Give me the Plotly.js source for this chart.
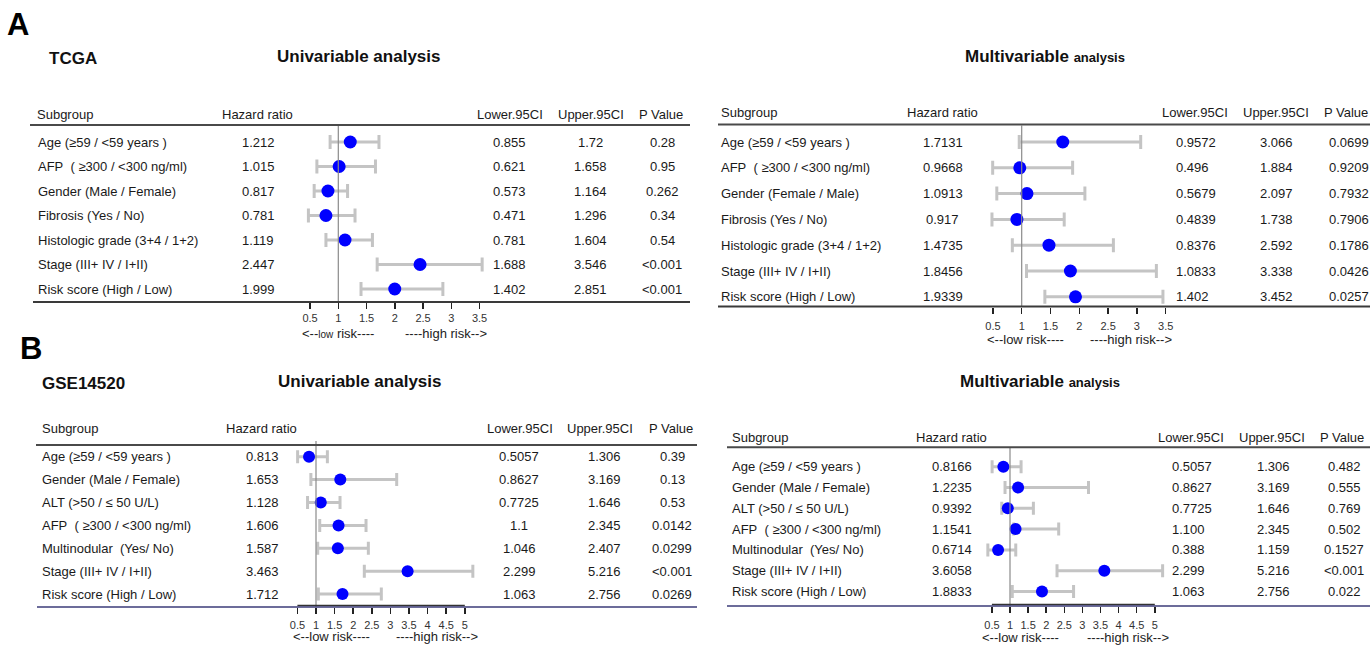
<!DOCTYPE html>
<html>
<head>
<meta charset="utf-8">
<script src="https://cdn.plot.ly/plotly-3.0.1.min.js"></script>
<style>
  html, body { margin: 0; padding: 0; background: #fff; }
  #chart { width: 1370px; height: 645px; }
</style>
</head>
<body>
<div id="chart"></div>
<script>
// ---------------- data ----------------
// TCGA cohort, univariable Cox regression
const tcgaUniSubgroups = [
  'Age (≥59 / <59 years )',
  'AFP\u00a0 ( ≥300 / <300 ng/ml)',
  'Gender (Male / Female)',
  'Fibrosis (Yes / No)',
  'Histologic grade (3+4 / 1+2)',
  'Stage (III+ IV / I+II)',
  'Risk score (High / Low)'
];
const tcgaUniHR    = ['1.212', '1.015', '0.817', '0.781', '1.119', '2.447', '1.999'];
const tcgaUniLower = ['0.855', '0.621', '0.573', '0.471', '0.781', '1.688', '1.402'];
const tcgaUniUpper = ['1.72', '1.658', '1.164', '1.296', '1.604', '3.546', '2.851'];
const tcgaUniP     = ['0.28', '0.95', '0.262', '0.34', '0.54', '<0.001', '<0.001'];

// TCGA cohort, multivariable Cox regression
const tcgaMultiSubgroups = [
  'Age (≥59 / <59 years )',
  'AFP\u00a0 ( ≥300 / <300 ng/ml)',
  'Gender (Female / Male)',
  'Fibrosis (Yes / No)',
  'Histologic grade (3+4 / 1+2)',
  'Stage (III+ IV / I+II)',
  'Risk score (High / Low)'
];
const tcgaMultiHR    = ['1.7131', '0.9668', '1.0913', '0.917', '1.4735', '1.8456', '1.9339'];
const tcgaMultiLower = ['0.9572', '0.496', '0.5679', '0.4839', '0.8376', '1.0833', '1.402'];
const tcgaMultiUpper = ['3.066', '1.884', '2.097', '1.738', '2.592', '3.338', '3.452'];
const tcgaMultiP     = ['0.0699', '0.9209', '0.7932', '0.7906', '0.1786', '0.0426', '0.0257'];

// GSE14520 cohort, univariable Cox regression
const gseUniSubgroups = [
  'Age (≥59 / <59 years )',
  'Gender (Male / Female)',
  'ALT (>50 / ≤ 50 U/L)',
  'AFP\u00a0 ( ≥300 / <300 ng/ml)',
  'Multinodular\u00a0 (Yes/ No)',
  'Stage (III+ IV / I+II)',
  'Risk score (High / Low)'
];
const gseUniHR    = ['0.813', '1.653', '1.128', '1.606', '1.587', '3.463', '1.712'];
const gseUniLower = ['0.5057', '0.8627', '0.7725', '1.1', '1.046', '2.299', '1.063'];
const gseUniUpper = ['1.306', '3.169', '1.646', '2.345', '2.407', '5.216', '2.756'];
const gseUniP     = ['0.39', '0.13', '0.53', '0.0142', '0.0299', '<0.001', '0.0269'];

// GSE14520 cohort, multivariable Cox regression
const gseMultiSubgroups = gseUniSubgroups.slice();
const gseMultiHR    = ['0.8166', '1.2235', '0.9392', '1.1541', '0.6714', '3.6058', '1.8833'];
const gseMultiLower = ['0.5057', '0.8627', '0.7725', '1.100', '0.388', '2.299', '1.063'];
const gseMultiUpper = ['1.306', '3.169', '1.646', '2.345', '1.159', '5.216', '2.756'];
const gseMultiP     = ['0.482', '0.555', '0.769', '0.502', '0.1527', '<0.001', '0.022'];

// axis ticks
const ticksTcga = [0.5, 1, 1.5, 2, 2.5, 3, 3.5];
const ticksGse  = [0.5, 1, 1.5, 2, 2.5, 3, 3.5, 4, 4.5, 5];

const headers = ['Subgroup', 'Hazard ratio', 'Lower.95CI', 'Upper.95CI', 'P Value'];

// ---------------- layout helpers ----------------
const W = 1370, H = 645;
const FONT = 'Liberation Sans, Arial, Helvetica, sans-serif';
const TXT = '#1a1a1a';
const px = v => v / W;
const py = v => 1 - v / H;
const esc = s => s.replace(/&/g, '&amp;').replace(/</g, '&lt;').replace(/>/g, '&gt;');

// geometry of each forest panel (pixel positions on the 1370x645 page)
const panels = [
  {
    subgroups: tcgaUniSubgroups, hr: tcgaUniHR, lower: tcgaUniLower, upper: tcgaUniUpper, p: tcgaUniP,
    ticks: ticksTcga,
    title: { text: '<b>Univariable analysis</b>', x: 358, y: 56 },
    headerY: 114, headerX: [35, 257, 510, 591, 661],
    colName: 36, colHR: 258, colLower: { x: 509, a: 'center' }, colUpper: 590, colP: { x: 662, a: 'center' },
    topLine: { y: 125, x0: 30, x1: 690 },
    bottomLine: { y: 302, x0: 33, x1: 690, color: '#3a3a3a', w: 2 },
    firstRow: 142, rowStep: 24.5,
    onePx: 338.3, unitPx: 56.5, dom: [285, 495],
    refTop: 126, arrowY: 333, lowX: 338, highX: 446, smallLow: true, standoff: 0,
    mSize: 13, cap: 7, segment: false
  },
  {
    subgroups: tcgaMultiSubgroups, hr: tcgaMultiHR, lower: tcgaMultiLower, upper: tcgaMultiUpper, p: tcgaMultiP,
    ticks: ticksTcga,
    title: { text: '<b>Multivariable <span style="font-size:13px">analysis</span></b>', x: 1045, y: 57 },
    headerY: 113, headerX: [719, 942, 1195, 1276, 1346],
    colName: 719, colHR: 943, colLower: { x: 1174, a: 'left' }, colUpper: 1276, colP: { x: 1327, a: 'left' },
    topLine: { y: 124.5, x0: 718, x1: 1370 },
    bottomLine: { y: 306.5, x0: 718, x1: 1370, color: '#3a3a3a', w: 2 },
    firstRow: 142, rowStep: 25.8,
    onePx: 1021.7, unitPx: 57.6, dom: [968, 1180],
    refTop: 125.5, arrowY: 339.5, lowX: 1025, highX: 1131, smallLow: false, standoff: 3,
    mSize: 13, cap: 7, segment: false
  },
  {
    subgroups: gseUniSubgroups, hr: gseUniHR, lower: gseUniLower, upper: gseUniUpper, p: gseUniP,
    ticks: ticksGse,
    title: { text: '<b>Univariable analysis</b>', x: 359, y: 381 },
    headerY: 428, headerX: [40, 261, 520, 600, 671],
    colName: 40, colHR: 262, colLower: { x: 519, a: 'center' }, colUpper: 604, colP: { x: 672, a: 'center' },
    topLine: { y: 445, x0: 36, x1: 697 },
    bottomLine: { y: 607, x0: 37, x1: 697, color: '#3b3b78', w: 1.5 },
    firstRow: 456.7, rowStep: 22.9,
    onePx: 316, unitPx: 37.2, dom: [280, 485],
    refTop: 441, arrowY: 636, lowX: 331, highX: 437, smallLow: false, standoff: 2,
    mSize: 12, cap: 6.5, segment: true
  },
  {
    subgroups: gseMultiSubgroups, hr: gseMultiHR, lower: gseMultiLower, upper: gseMultiUpper, p: gseMultiP,
    ticks: ticksGse,
    title: { text: '<b>Multivariable <span style="font-size:13px">analysis</span></b>', x: 1040, y: 381 },
    headerY: 437, headerX: [730, 951, 1191, 1272, 1342],
    colName: 730, colHR: 951.5, colLower: { x: 1170, a: 'left' }, colUpper: 1273, colP: { x: 1344, a: 'center' },
    topLine: { y: 447.3, x0: 727, x1: 1370 },
    bottomLine: { y: 606, x0: 727, x1: 1370, color: '#3b3b78', w: 1.5 },
    firstRow: 466.7, rowStep: 20.8,
    onePx: 1010, unitPx: 36.2, dom: [975, 1180],
    refTop: 447.3, arrowY: 637, lowX: 1021, highX: 1128, smallLow: false, standoff: 3,
    mSize: 12, cap: 6.5, segment: true
  }
];

const data = [];
const layout = {
  width: W, height: H,
  margin: { l: 0, r: 0, t: 0, b: 0 },
  paper_bgcolor: '#ffffff', plot_bgcolor: 'rgba(0,0,0,0)',
  showlegend: false,
  font: { family: FONT, color: TXT, size: 13 },
  annotations: [], shapes: []
};

function note(text, x, y, opts) {
  layout.annotations.push(Object.assign({
    text: text, x: x, y: y, xref: 'paper', yref: 'paper',
    xanchor: 'center', yanchor: 'middle', showarrow: false,
    font: { family: FONT, size: 13, color: TXT }
  }, opts || {}));
}

function hline(x0, x1, y, color, w) {
  layout.shapes.push({
    type: 'line', xref: 'paper', yref: 'paper',
    x0: px(x0), x1: px(x1), y0: py(y), y1: py(y),
    line: { color: color, width: w }
  });
}

panels.forEach((pn, k) => {
  const n = k + 1;
  const xa = 'x' + (n === 1 ? '' : n), ya = 'y' + (n === 1 ? '' : n);
  const xKey = 'xaxis' + (n === 1 ? '' : n), yKey = 'yaxis' + (n === 1 ? '' : n);
  const rows = pn.subgroups.map((_, i) => i);
  const hr = pn.hr.map(Number), lo = pn.lower.map(Number), up = pn.upper.map(Number);

  // rows: value i sits at firstRow + i*rowStep pixels
  const top = pn.topLine.y, bot = pn.bottomLine.y;
  layout[yKey] = {
    domain: [py(bot), py(top)],
    range: [(bot - pn.firstRow) / pn.rowStep, (top - pn.firstRow) / pn.rowStep],
    visible: false, fixedrange: true
  };
  layout[xKey] = {
    domain: [px(pn.dom[0]), px(pn.dom[1])],
    range: [1 + (pn.dom[0] - pn.onePx) / pn.unitPx, 1 + (pn.dom[1] - pn.onePx) / pn.unitPx],
    anchor: ya, tickmode: 'array', tickvals: pn.ticks, ticktext: pn.ticks.map(String),
    ticks: 'outside', ticklen: 6, tickwidth: 1.5, tickcolor: '#222',
    ticklabelstandoff: pn.standoff,
    tickfont: { family: FONT, size: 11, color: '#333' },
    showgrid: false, zeroline: false, showline: false, fixedrange: true
  };

  // hazard ratio with 95% CI
  data.push({
    type: 'scatter', mode: 'markers', x: hr, y: rows, xaxis: xa, yaxis: ya,
    cliponaxis: false, hoverinfo: 'skip',
    marker: { color: '#0000ff', size: pn.mSize, line: { width: 0 } },
    error_x: {
      type: 'data', symmetric: false,
      array: up.map((u, i) => u - hr[i]),
      arrayminus: lo.map((l, i) => hr[i] - l),
      color: '#c4c4c4', thickness: 3, width: pn.cap
    }
  });

  // reference line at HR = 1
  layout.shapes.push({
    type: 'line', xref: xa, yref: 'paper', x0: 1, x1: 1,
    y0: py(pn.refTop), y1: py(bot), line: { color: '#8a8a8a', width: 1.2 }
  });
  if (pn.segment) {
    layout.shapes.push({
      type: 'line', xref: xa, yref: 'paper',
      x0: pn.ticks[0], x1: pn.ticks[pn.ticks.length - 1],
      y0: py(bot - 1.5), y1: py(bot - 1.5), line: { color: '#333', width: 1.5 }
    });
  }

  // table rules
  hline(pn.topLine.x0, pn.topLine.x1, top, '#4a4a4a', 2);
  hline(pn.bottomLine.x0, pn.bottomLine.x1, bot, pn.bottomLine.color, pn.bottomLine.w);

  // titles
  note(pn.title.text, px(pn.title.x), py(pn.title.y), { font: { family: FONT, size: 17, color: '#111' } });

  // column headers
  headers.forEach((h, j) => {
    note(h, px(pn.headerX[j]), py(pn.headerY), { xanchor: j === 0 ? 'left' : 'center' });
  });

  // table body
  rows.forEach(i => {
    const cellY = { yref: ya };
    note(esc(pn.subgroups[i]), px(pn.colName), i, Object.assign({ xanchor: 'left' }, cellY));
    note(pn.hr[i], px(pn.colHR), i, cellY);
    note(pn.lower[i], px(pn.colLower.x), i, Object.assign({ xanchor: pn.colLower.a }, cellY));
    note(pn.upper[i], px(pn.colUpper), i, cellY);
    note(esc(pn.p[i]), px(pn.colP.x), i, Object.assign({ xanchor: pn.colP.a }, cellY));
  });

  // risk direction captions
  const lowText = pn.smallLow
    ? '&lt;--<span style="font-size:10px">low</span> risk----'
    : '&lt;--low risk----';
  note(lowText, px(pn.lowX), py(pn.arrowY), { font: { family: FONT, size: 13, color: '#222' } });
  note('----high risk--&gt;', px(pn.highX), py(pn.arrowY), { font: { family: FONT, size: 13, color: '#222' } });
});

// cohort labels and panel letters
note('<b>A</b>', px(18), py(24), { font: { family: FONT, size: 31, color: '#000' } });
note('<b>B</b>', px(31), py(348), { font: { family: FONT, size: 31, color: '#000' } });
note('<b>TCGA</b>', px(47), py(58), { xanchor: 'left', font: { family: FONT, size: 17, color: '#111' } });
note('<b>GSE14520</b>', px(40), py(383), { xanchor: 'left', font: { family: FONT, size: 17, color: '#111' } });

Plotly.newPlot('chart', data, layout, { staticPlot: true, displayModeBar: false });
</script>
</body>
</html>
